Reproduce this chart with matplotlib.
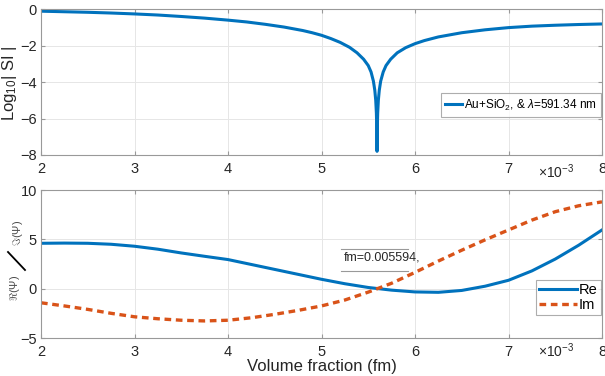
import matplotlib
matplotlib.use("Agg")
import matplotlib.pyplot as plt
from matplotlib.lines import Line2D

plt.rcParams['font.family'] = ['Liberation Sans', 'DejaVu Sans']
plt.rcParams['mathtext.fontset'] = 'custom'
plt.rcParams['mathtext.rm'] = 'Liberation Sans'
plt.rcParams['mathtext.it'] = 'Liberation Sans:italic'

# Volume fraction (units of 1e-3)
fm_top = [2.0, 2.25, 2.5, 2.75, 3.0, 3.25, 3.5, 3.75, 4.0, 4.2, 4.4, 4.6, 4.8, 4.9,
          5.0, 5.1, 5.2, 5.3, 5.38, 5.45, 5.5, 5.53, 5.555, 5.57, 5.58, 5.587,
          5.591, 5.594, 5.597, 5.601, 5.608, 5.618, 5.633, 5.66, 5.69, 5.74, 5.81,
          5.9, 6.0, 6.1, 6.25, 6.5, 6.75, 7.0, 7.25, 7.5, 7.75, 8.0]
log_s = [-0.12, -0.15, -0.18, -0.22, -0.27, -0.33, -0.41, -0.5, -0.61, -0.71, -0.84,
         -0.99, -1.18, -1.3, -1.44, -1.62, -1.83, -2.1, -2.4, -2.75, -3.1, -3.45,
         -3.95, -4.45, -5.0, -5.7, -6.5, -7.8, -6.5, -5.7, -5.0, -4.45, -3.95,
         -3.45, -3.1, -2.75, -2.4, -2.12, -1.9, -1.73, -1.53, -1.3, -1.14, -1.02,
         -0.94, -0.89, -0.85, -0.82]

fm_bot = [2.0, 2.25, 2.5, 2.75, 3.0, 3.25, 3.5, 3.75, 4.0, 4.25, 4.5, 4.75, 5.0,
          5.25, 5.5, 5.75, 6.0, 6.25, 6.5, 6.75, 7.0, 7.25, 7.5, 7.75, 8.0]
re_psi = [4.6, 4.62, 4.6, 4.5, 4.3, 4.0, 3.62, 3.28, 2.95, 2.45, 1.95, 1.45, 0.95,
          0.5, 0.12, -0.15, -0.33, -0.37, -0.18, 0.25, 0.85, 1.8, 3.0, 4.4, 5.95]
im_psi = [-1.43, -1.75, -2.1, -2.5, -2.85, -3.05, -3.2, -3.27, -3.2, -2.95, -2.6,
          -2.2, -1.75, -1.15, -0.35, 0.55, 1.65, 2.8, 3.9, 4.95, 5.95, 6.95, 7.8,
          8.4, 8.8]

xticks = [2, 3, 4, 5, 6, 7, 8]
top_yticks = [0, -2, -4, -6, -8]
bot_yticks = [-5, 0, 5, 10]

blue = '#0072BD'
orange = '#D95319'
spine_c = '0.6'
text_c = '0.15'

W, H = 605, 376
fig = plt.figure(figsize=(6.05, 3.76), dpi=100)
ax1 = fig.add_axes([41/W, 1-155/H, (602-41)/W, (155-9)/H])
ax2 = fig.add_axes([41/W, 1-338/H, (602-41)/W, (338-190)/H])

def style(ax):
    for s in ax.spines.values():
        s.set_color(spine_c)
        s.set_linewidth(0.8)
    ax.tick_params(direction='in', length=3, color=spine_c, labelcolor=text_c,
                   labelsize=10.5, top=True, right=True)
    ax.tick_params(axis='x', pad=5)
    ax.tick_params(axis='y', pad=3)
    ax.grid(True, color='0.9', linewidth=0.7)
    ax.set_axisbelow(True)
    ax.set_xlim(2, 8)
    ax.set_xticks(xticks)

style(ax1)
ax1.plot(fm_top, log_s, color=blue, lw=2.2, label=r'Au+SiO$_2$, & $\lambda$=591.34 nm')
ax1.set_ylim(-8, 0)
ax1.set_yticks(top_yticks)
ax1.set_ylabel(r'Log$_{10}$| SI |', fontsize=12, color=text_c)
ax1.yaxis.set_label_coords(-0.040, 0.49)
leg1 = ax1.legend(loc='upper right', bbox_to_anchor=(1.0, 0.43), fontsize=8.5,
                  frameon=True, fancybox=False, edgecolor='0.6', handlelength=1.4,
                  handletextpad=0.2, borderpad=0.35, borderaxespad=0.1)
leg1.get_frame().set_linewidth(0.8)
ax1.text((538-41)/561, -0.115, r'$\times$10$^{-3}$', transform=ax1.transAxes, fontsize=10,
         color=text_c, ha='left', va='center')

style(ax2)
ax2.plot(fm_bot, re_psi, color=blue, lw=2.2, label='Re')
ax2.plot(fm_bot, im_psi, color=orange, lw=2.4, linestyle=(0, (2.0, 1.4)), label='Im')
ax2.set_ylim(-5, 10)
ax2.set_yticks(bot_yticks)
ax2.set_xlabel('Volume fraction (fm)', fontsize=12, color=text_c, labelpad=0)
leg2 = ax2.legend(loc='upper right', bbox_to_anchor=(1.0, 0.40), fontsize=10.5,
                  frameon=True, fancybox=False, edgecolor='0.6', handlelength=2.6,
                  handletextpad=0.15, borderpad=0.2, labelspacing=0.05, borderaxespad=0.1)
leg2.get_frame().set_linewidth(0.8)
ax2.text((538-41)/561, -0.085, r'$\times$10$^{-3}$', transform=ax2.transAxes, fontsize=10,
         color=text_c, ha='left', va='center')

# composite y label: Re(Psi) / Im(Psi)
fig.text(15/W, 1-288/H, r'$\Re(\Psi)$', rotation=90, fontsize=8, color='0.3',
         ha='center', va='center')
fig.text(18/W, 1-233/H, r'$\Im(\Psi)$', rotation=90, fontsize=8, color='0.3',
         ha='center', va='center')
fig.add_artist(Line2D([8/W, 25/W], [1-252/H, 1-270/H], transform=fig.transFigure,
                      color='black', lw=1.3))

# annotation box (top and bottom edges only)
x0, x1 = (341-41)/561, (408-41)/561
for yy in [(338-249)/148, (338-270.5)/148]:
    ax2.add_line(Line2D([x0, x1], [yy, yy], transform=ax2.transAxes, color='0.6', lw=0.8))
ax2.text((344-41)/561, (338-258)/148, 'fm=0.005594,', transform=ax2.transAxes,
         fontsize=9, color=text_c, ha='left', va='center')

fig.savefig('out.png', dpi=100)
